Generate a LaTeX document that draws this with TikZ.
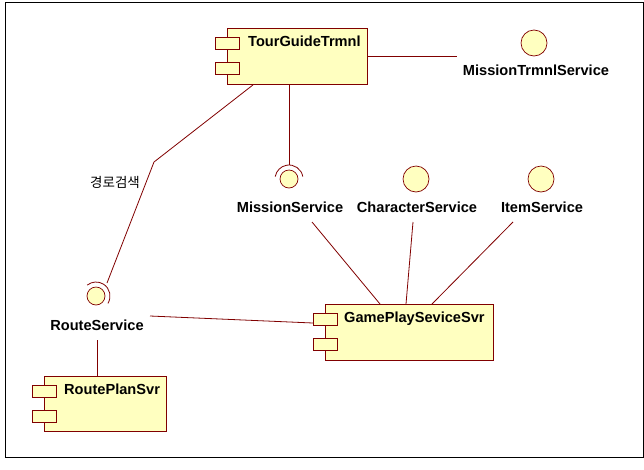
\documentclass[tikz,border=0pt]{standalone}
\usepackage{fontspec}
\setmainfont{Liberation Sans}
\newfontfamily\kofont{Noto Sans CJK KR}
\usetikzlibrary{calc}

\definecolor{umlline}{RGB}{128,0,0}
\definecolor{umlfill}{RGB}{255,255,192}

\tikzset{
  comp/.style={draw=umlline, fill=umlfill, line width=0.9pt, anchor=north west, inner sep=0pt},
  compname/.style={anchor=north west, inner sep=0pt, font=\bfseries\fontsize{14.6}{16}\selectfont},
  comptab/.style={draw=umlline, fill=umlfill, line width=0.9pt},
  iface/.style={circle, draw=umlline, fill=umlfill, line width=0.7pt, minimum size=26pt, inner sep=0pt},
  reqface/.style={circle, draw=umlline, fill=umlfill, line width=0.7pt, minimum size=18pt, inner sep=0pt},
  iname/.style={font=\bfseries\fontsize{14.6}{16}\selectfont, inner sep=2pt},
  wire/.style={draw=umlline, line width=0.8pt},
}

% two small tabs on the left side of a component box
\newcommand{\comptabs}[1]{%
  \draw[comptab] ($(#1.north west)+(-12,9)$) rectangle ++(24,12);
  \draw[comptab] ($(#1.north west)+(-12,34)$) rectangle ++(24,12);
}

\begin{document}
\begin{tikzpicture}[x=1pt, y=-1pt]
  \useasboundingbox (0,0) rectangle (644,469);
  \draw[line width=0.9pt] (5,2) rectangle (643,457);

  % components
  \node[comp, minimum width=140pt, minimum height=56pt,
        label={[compname, xshift=21pt, yshift=-8pt]north west:TourGuideTrmnl}] (tour) at (227,28) {};
  \comptabs{tour}
  \node[comp, minimum width=168pt, minimum height=56pt,
        label={[compname, xshift=19pt, yshift=-8pt]north west:GamePlaySeviceSvr}] (game) at (325,304) {};
  \comptabs{game}
  \node[comp, minimum width=122pt, minimum height=55pt,
        label={[compname, xshift=20pt, yshift=-8pt]north west:RoutePlanSvr}] (plan) at (44,376) {};
  \comptabs{plan}

  % provided interfaces
  \node[iface] (mtrmnl) at (534,43) {};
  \node[iname] (mtrmnl-l) at (536,70) {MissionTrmnlService};
  \node[iface] (charsrv) at (416,179) {};
  \node[iname] (charsrv-l) at (417,207) {CharacterService};
  \node[iface] (itemsrv) at (541,179) {};
  \node[iname] (itemsrv-l) at (542,207) {ItemService};

  % required interfaces
  \node[reqface] (missrv) at (289,179) {};
  \draw[wire] ([shift={(-10:14)}]missrv.center) arc[start angle=-10, end angle=-170, radius=14];
  \node[iname] (missrv-l) at (290,207) {MissionService};
  \node[reqface] (routesrv) at (96,296) {};
  \draw[wire] ([shift={(32:14)}]routesrv.center) arc[start angle=32, end angle=-129, radius=14];
  \node[iname] (routesrv-l) at (97,325) {RouteService};

  % connectors
  \draw[wire] (tour.east) -- ([xshift=-4pt]tour.east -| mtrmnl-l.west);
  \draw[wire] (missrv.north |- tour.south) -- ([yshift=5pt]missrv.north);
  \coordinate (bend) at (154,162);
  \draw[wire] ([xshift=26pt]tour.south west) -- (bend) -- ($(routesrv.center)+(11,-13)$);
  \node[font=\kofont\fontsize{13.5}{15}\selectfont] (route-l) at (115,182) {경로검색};

  \draw[wire] ($(missrv-l.center)+(22,15)$) -- ($(game.north west)+(55,0)$);
  \draw[wire] ($(charsrv-l.center)+(-4,15)$) -- ($(game.north west)+(81,0)$);
  \draw[wire] ($(itemsrv-l.center)+(-29,15)$) -- ($(game.north west)+(107,0)$);
  \draw[wire] ($(routesrv-l.center)+(53,-9)$) -- ($(game.north west)+(-12,19)$);
  \draw[wire] ($(routesrv-l.center)+(0,15)$) -- (routesrv-l.center |- plan.north);
\end{tikzpicture}
\end{document}
